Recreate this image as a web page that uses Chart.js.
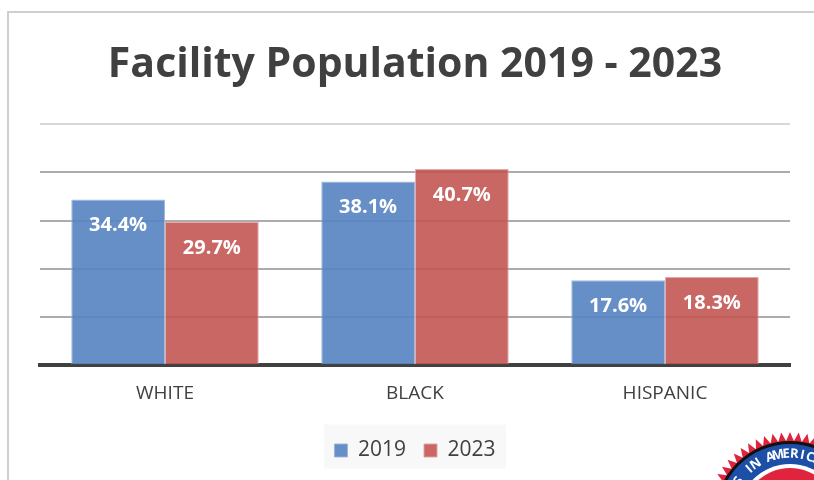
<!DOCTYPE html>
<html>
<head>
<meta charset="utf-8">
<script src="https://cdn.jsdelivr.net/npm/chart.js@4.4.0/dist/chart.umd.min.js"></script>
<style>
  body { margin: 0; background: #fff; }
  #wrap { position: relative; width: 814px; height: 480px; overflow: hidden; }
  #frame { position: absolute; left: 7px; top: 11px; width: 900px; height: 600px;
           border-left: 2px solid #cfcfcf; border-top: 2px solid #cfcfcf; }
  canvas { position: absolute; left: 0; top: 0; }
</style>
</head>
<body>
<div id="wrap">
  <div id="frame"></div>
  <canvas id="myChart" width="814" height="480"></canvas>
</div>
<script>
var categories = ["WHITE", "BLACK", "HISPANIC"];
var years = ["2019", "2023"];
var pop2019 = [34.4, 38.1, 17.6];
var pop2023 = [29.7, 40.7, 18.3];
var yTicks = [0, 10, 20, 30, 40, 50];

// white % labels inside top of each bar
var barLabels = {
  id: 'barLabels',
  afterDatasetsDraw: function(chart) {
    var ctx = chart.ctx;
    ctx.save();
    ctx.fillStyle = '#ffffff';
    ctx.font = 'bold 20px "Open Sans"';
    ctx.textAlign = 'center';
    ctx.textBaseline = 'middle';
    chart.data.datasets.forEach(function(ds, i) {
      chart.getDatasetMeta(i).data.forEach(function(bar, j) {
        ctx.fillText(ds.data[j].toFixed(1) + '%', bar.x, bar.y + 26);
      });
    });
    ctx.restore();
  }
};

// grey box behind the legend + partial seal in the corner
var extras = {
  id: 'extras',
  beforeDraw: function(chart) {
    var ctx = chart.ctx;
    var lg = chart.legend;
    var cy = (lg.top + lg.bottom) / 2;
    ctx.save();
    ctx.fillStyle = '#f8f8f8';
    ctx.fillRect(324, cy - 22, 182, 44);
    ctx.restore();
  },
  afterDraw: function(chart) {
    var ctx = chart.ctx;
    ctx.save();
    var x0 = 790, y0 = 516, r = 84;
    ctx.beginPath();
    for (var k = 0; k <= 360; k += 3) {
      var a = k * Math.PI / 180;
      var rr = (k % 6 == 0) ? r : r - 9;
      ctx.lineTo(x0 + rr * Math.cos(a), y0 + rr * Math.sin(a));
    }
    ctx.fillStyle = '#e0243e';
    ctx.fill();
    ctx.beginPath();
    ctx.arc(x0, y0, r - 9, 0, Math.PI * 2);
    ctx.fillStyle = '#111';
    ctx.fill();
    ctx.beginPath();
    ctx.arc(x0, y0, r - 12, 0, Math.PI * 2);
    ctx.fillStyle = '#1d4fa8';
    ctx.fill();
    ctx.beginPath();
    ctx.arc(x0, y0, r - 32, 0, Math.PI * 2);
    ctx.fillStyle = '#ffffff';
    ctx.fill();
    ctx.beginPath();
    ctx.arc(x0, y0, r - 36, 0, Math.PI * 2);
    ctx.fillStyle = '#e0243e';
    ctx.fill();
    ctx.fillStyle = '#ffffff';
    ctx.font = 'bold 13px "Open Sans"';
    ctx.textAlign = 'center';
    ctx.textBaseline = 'middle';
    var txt = "S IN AMERICA";
    for (var t = 0; t < txt.length; t++) {
      var ang = (-146 + t * 7.5) * Math.PI / 180;
      ctx.save();
      ctx.translate(x0 + (r - 22) * Math.cos(ang), y0 + (r - 22) * Math.sin(ang));
      ctx.rotate(ang + Math.PI / 2);
      ctx.fillText(txt[t], 0, 0);
      ctx.restore();
    }
    ctx.restore();
  }
};

var ctx = document.getElementById('myChart').getContext('2d');
var chart = new Chart(ctx, {
  type: 'bar',
  data: {
    labels: categories,
    datasets: [{
      label: years[0],
      data: pop2019,
      backgroundColor: 'rgba(90,134,194,0.92)',
      borderColor: 'rgba(150,180,220,0.9)',
      borderWidth: 1
    }, {
      label: years[1],
      data: pop2023,
      backgroundColor: 'rgba(195,86,84,0.9)',
      borderColor: 'rgba(225,160,160,0.9)',
      borderWidth: 1
    }]
  },
  options: {
    responsive: false,
    animation: false,
    layout: { padding: { left: 40, right: 24, top: 0, bottom: 9 } },
    datasets: { bar: { categoryPercentage: 0.75, barPercentage: 1 } },
    scales: {
      x: {
        grid: { display: false, drawTicks: false },
        border: { display: true, color: '#404040', width: 4 },
        ticks: { color: '#404040', font: { family: 'Open Sans', size: 19 }, padding: 17 }
      },
      y: {
        min: yTicks[0], max: yTicks[yTicks.length - 1],
        z: 1,
        afterBuildTicks: function(axis) {
          axis.ticks = yTicks.map(function(v) { return { value: v }; });
        },
        grid: {
          drawTicks: false,
          color: function(c) {
            if (c.tick.value == 50) return 'rgba(200,200,200,0.7)';
            if (c.tick.value == 0) return 'rgba(0,0,0,0)';
            return 'rgba(90,90,90,0.5)';
          },
          lineWidth: 2
        },
        border: { display: false },
        ticks: { display: false }
      }
    },
    plugins: {
      title: {
        display: true,
        text: 'Facility Population 2019 - 2023',
        color: '#404040',
        font: { family: 'Open Sans', size: 41, weight: 'bold' },
        padding: { top: 41, bottom: 34 }
      },
      legend: {
        position: 'bottom',
        labels: {
          color: '#404040',
          font: { family: 'Open Sans', size: 21 },
          boxWidth: 13, boxHeight: 13,
          padding: 18,
          useBorderRadius: false
        }
      },
      tooltip: { enabled: false }
    }
  },
  plugins: [barLabels, extras]
});
</script>
</body>
</html>
